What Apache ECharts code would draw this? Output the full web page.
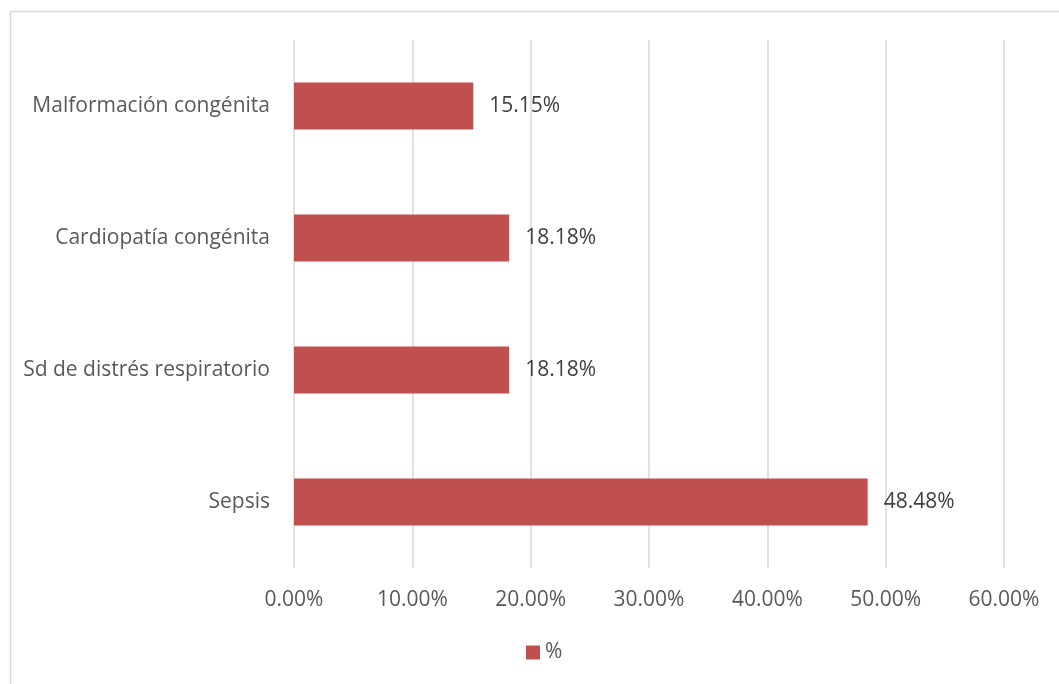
<!DOCTYPE html>
<html>
<head>
<meta charset="utf-8">
<script src="https://cdn.jsdelivr.net/npm/echarts@6/dist/echarts.min.js"></script>
<style>
  html, body { margin: 0; padding: 0; background: #ffffff; }
  #chart { width: 1059px; height: 684px; }
</style>
</head>
<body>
<div id="chart"></div>
<script>
// Causes listed bottom to top, as drawn on the category axis
const categories = ['Sepsis', 'Sd de distrés respiratorio', 'Cardiopatía congénita', 'Malformación congénita'];
const percentValues = [48.48, 18.18, 18.18, 15.15];
const seriesName = '%';
const axisMin = 0;
const axisMax = 60;
const axisStep = 10;

const FONT = 'Open Sans';
const FS = 21;
const chart = echarts.init(document.getElementById('chart'), null, { renderer: 'canvas' });

chart.setOption({
  backgroundColor: '#ffffff',
  animation: false,
  textStyle: { fontFamily: FONT },
  graphic: [{
    type: 'rect',
    shape: { x: 10.5, y: 11.5, width: 1100, height: 800 },
    style: { fill: 'none', stroke: '#d9d9d9', lineWidth: 1.5 },
    silent: true,
    z: -1
  }],
  grid: { left: 294, right: 55, top: 40, bottom: 116, containLabel: false },
  legend: {
    data: [seriesName],
    top: 642,
    left: 526,
    padding: 0,
    itemWidth: 14,
    itemHeight: 14,
    itemGap: 6,
    icon: 'rect',
    textStyle: { color: '#595959', fontSize: FS, fontFamily: FONT }
  },
  xAxis: {
    type: 'value',
    min: axisMin,
    max: axisMax,
    interval: axisStep,
    axisLine: { show: false },
    axisTick: { show: false },
    splitLine: { show: true, lineStyle: { color: '#d9d9d9', width: 1.5 } },
    axisLabel: {
      color: '#595959',
      fontSize: FS,
      fontFamily: FONT,
      margin: 22,
      formatter: v => v.toFixed(2) + '%'
    }
  },
  yAxis: {
    type: 'category',
    data: categories,
    axisLine: { show: false },
    axisTick: { show: false },
    splitLine: { show: false },
    axisLabel: { color: '#595959', fontSize: FS, fontFamily: FONT, margin: 24 }
  },
  series: [{
    name: seriesName,
    type: 'bar',
    data: percentValues,
    barWidth: 47,
    itemStyle: { color: '#C0504D' },
    label: {
      show: true,
      position: 'right',
      distance: 16,
      color: '#404040',
      fontSize: FS,
      fontFamily: FONT,
      formatter: p => p.value.toFixed(2) + '%'
    }
  }]
});
</script>
</body>
</html>
